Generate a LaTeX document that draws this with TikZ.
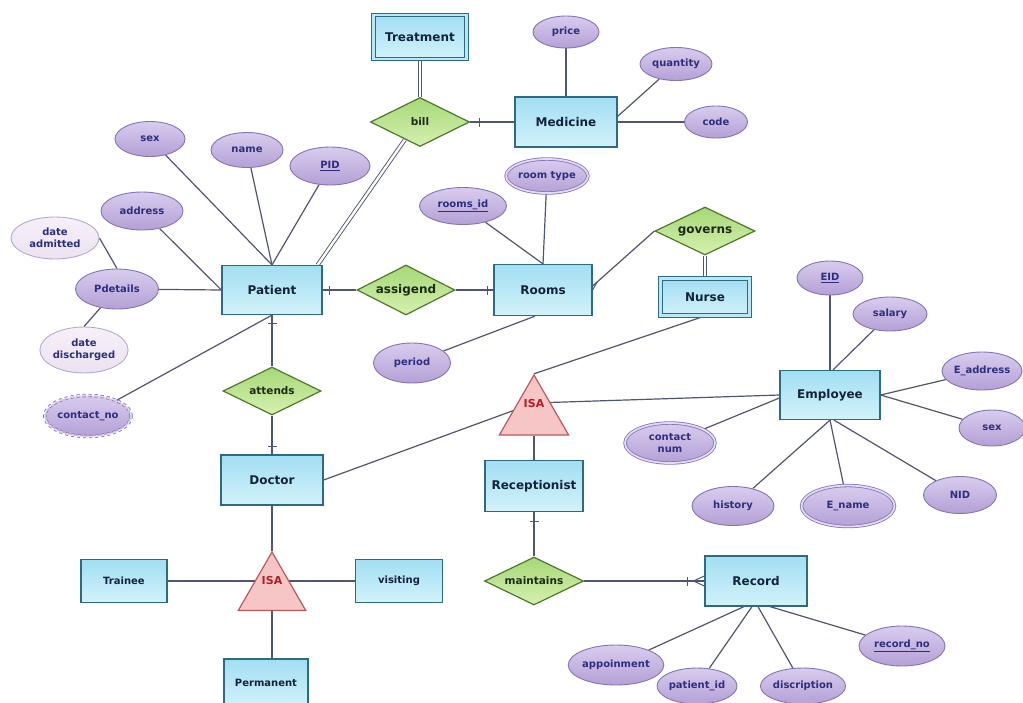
\documentclass[tikz,border=0pt]{standalone}
\usepackage{fontspec}
\setmainfont{DejaVu Sans}
\usetikzlibrary{shapes.geometric,backgrounds,calc}

\definecolor{linec}{HTML}{505670}
\definecolor{entB}{HTML}{2F6A85}
\definecolor{entTop}{HTML}{A2DEF2}
\definecolor{entBot}{HTML}{D2F2FA}
\definecolor{entDbl}{HTML}{B8E8F6}
\definecolor{entT}{HTML}{14233A}
\definecolor{relB}{HTML}{4A7A28}
\definecolor{relTop}{HTML}{A6D877}
\definecolor{relBot}{HTML}{D6F0B0}
\definecolor{relT}{HTML}{1E2A14}
\definecolor{attB}{HTML}{8474B4}
\definecolor{attTop}{HTML}{D8CCEE}
\definecolor{attBot}{HTML}{B4A0D6}
\definecolor{attDbl}{HTML}{E4DAF4}
\definecolor{attT}{HTML}{2E2E7E}
\definecolor{paleB}{HTML}{B8A8CC}
\definecolor{paleTop}{HTML}{F6F0F8}
\definecolor{paleBot}{HTML}{ECE2F2}
\definecolor{isaB}{HTML}{B85A5A}
\definecolor{isaF}{HTML}{F6C5C5}
\definecolor{isaT}{HTML}{B0202A}

\tikzset{
  ent/.style={rectangle,draw=entB,line width=1.2pt,top color=entTop,bottom color=entBot,
    inner sep=0pt,text=entT,font=\bfseries\fontsize{12}{14}\selectfont},
  sub/.style={font=\bfseries\fontsize{10}{12}\selectfont},
  wk/.style={ent,double=entDbl,double distance=2.6pt,line width=0.9pt},
  rel/.style={diamond,aspect=2.2,draw=relB,line width=1.2pt,top color=relTop,bottom color=relBot,
    inner sep=0pt,text=relT,font=\bfseries\fontsize{10.5}{12}\selectfont},
  bigrel/.style={font=\bfseries\fontsize{12}{14}\selectfont},
  attr/.style={ellipse,draw=attB,line width=0.9pt,top color=attTop,bottom color=attBot,
    inner sep=0pt,align=center,text=attT,font=\bfseries\fontsize{10}{12}\selectfont},
  pale/.style={attr,draw=paleB,top color=paleTop,bottom color=paleBot},
  mv/.style={attr,double=attDbl,double distance=1.8pt,line width=0.8pt},
  isa/.style={regular polygon,regular polygon sides=3,draw=isaB,line width=1.2pt,fill=isaF,inner sep=0pt},
  isatxt/.style={text=isaT,font=\bfseries\fontsize{11}{13}\selectfont},
  conn/.style={draw=linec,line width=1.2pt},
  tickln/.style={draw=linec,line width=1.2pt},
  dbl/.style={draw=linec,double=white,double distance=2.4pt,line width=0.9pt}
}

\begin{document}
\begin{tikzpicture}[x=1pt,y=-1pt]
\useasboundingbox (0,0) rectangle (1023,702);
\clip (0,0) rectangle (1023,702);

% ---------- nodes ----------
\node[wk,minimum width=93,minimum height=44] (treat) at (420,37) {Treatment};
\node[rel,minimum width=99,minimum height=49] (bill) at (420,122) {bill};
\node[ent,minimum width=102,minimum height=50] (med) at (566,122) {Medicine};
\node[attr,minimum width=66,minimum height=32] (price) at (566,32) {price};
\node[attr,minimum width=72,minimum height=33] (qty) at (676,64) {quantity};
\node[attr,minimum width=63,minimum height=32] (code) at (716,122) {code};

\node[attr,minimum width=70,minimum height=35] (psex) at (150,139) {sex};
\node[attr,minimum width=72,minimum height=35] (pname) at (247,150) {name};
\node[attr,minimum width=80,minimum height=38] (pid) at (330,166) {\underline{PID}};
\node[attr,minimum width=82,minimum height=38] (paddr) at (142,211) {address};
\node[pale,minimum width=88,minimum height=42] (dadm) at (55,238) {date\\admitted};
\node[attr,minimum width=83,minimum height=40] (pdet) at (117,289) {Pdetails};
\node[pale,minimum width=87,minimum height=46] (ddis) at (84,350) {date\\discharged};
\node[mv,dashed,minimum width=84,minimum height=41] (pcon) at (88,416) {contact\_no};
\node[ent,minimum width=100,minimum height=49] (pat) at (272,290) {Patient};

\node[rel,bigrel,minimum width=98,minimum height=50] (asg) at (406,290) {assigend};
\node[ent,minimum width=98,minimum height=51] (rooms) at (543,290) {Rooms};
\node[attr,minimum width=87,minimum height=37] (rid) at (463,206) {\underline{rooms\_id}};
\node[mv,minimum width=81,minimum height=34] (rtype) at (547,176) {room type};
\node[attr,minimum width=77,minimum height=40] (period) at (412,363) {period};
\node[rel,bigrel,minimum width=100,minimum height=48] (gov) at (705,231) {governs};
\node[wk,minimum width=89,minimum height=37] (nurse) at (705,297) {Nurse};

\node[rel,minimum width=98,minimum height=48] (att) at (272,391) {attends};
\node[ent,minimum width=102,minimum height=50] (doc) at (272,480) {Doctor};

\node[isa,minimum size=80] (isa1) at (534,415) {};
\node[isatxt] (isa1t) at (534,403) {ISA};
\node[ent,minimum width=98,minimum height=51] (recep) at (534,486) {Receptionist};
\node[rel,minimum width=99,minimum height=48] (maint) at (534,581) {maintains};
\node[ent,minimum width=102,minimum height=50] (rec) at (756,581) {Record};
\node[attr,minimum width=88,minimum height=40] (appt) at (616,665) {appoinment};
\node[attr,minimum width=80,minimum height=36] (rpid) at (697,686) {patient\_id};
\node[attr,minimum width=82,minimum height=36] (rdesc) at (803,686) {discription};
\node[attr,minimum width=86,minimum height=40] (rno) at (902,646) {\underline{record\_no}};

\node[ent,minimum width=100,minimum height=49] (emp) at (830,395) {Employee};
\node[attr,minimum width=66,minimum height=34] (eid) at (830,278) {\underline{EID}};
\node[attr,minimum width=74,minimum height=34] (sal) at (890,314) {salary};
\node[attr,minimum width=76,minimum height=38] (eaddr) at (982,371) {E\_address};
\node[attr,minimum width=66,minimum height=36] (esex) at (992,428) {sex};
\node[attr,minimum width=73,minimum height=37] (nid) at (960,495) {NID};
\node[mv,minimum width=93,minimum height=41] (ename) at (848,506) {E\_name};
\node[attr,minimum width=82,minimum height=39] (hist) at (733,506) {history};
\node[mv,minimum width=90,minimum height=40] (ecnum) at (670,443) {contact\\num};

\node[isa,minimum size=78] (isa2) at (272,591) {};
\node[isatxt] (isa2t) at (272,580) {ISA};
\node[ent,sub,minimum width=86,minimum height=43] (trainee) at (124,581) {Trainee};
\node[ent,sub,minimum width=87,minimum height=43] (visit) at (399,581) {visiting};
\node[ent,sub,minimum width=84,minimum height=48] (perm) at (266,683) {Permanent};

% ---------- connectors ----------
\begin{scope}[on background layer]
\fill[white] (0,0) rectangle (1023,702);
\draw[dbl] (treat) -- (bill);
\draw[conn] (bill) -- (med);
\draw[tickln] ($(bill.east)+(9,-4.5)$) -- ++(0,9);
\draw[conn] (price) -- (med);
\draw[conn] (qty) -- ($(med.north east)+(0,20)$);
\draw[conn] (code) -- (med);
\draw[dbl] ($(bill.south)!0.3!(bill.west)$) -- ($(pat.north east)+(-5,0)$);

\draw[conn] (psex) -- (pat.north);
\draw[conn] (pname) -- (pat.north);
\draw[conn] (pid) -- (pat.north);
\draw[conn] (paddr) -- (pat.west);
\draw[conn] (pdet) -- (pat.west);
\draw[conn] (dadm.east) -- (pdet.north);
\draw[conn] (ddis.north) -- (pdet);
\draw[conn] (pcon) -- (pat.south);

\draw[conn] (pat) -- (asg);
\draw[tickln] ($(pat.east)+(7,-4.5)$) -- ++(0,9);
\draw[conn] (asg) -- (rooms);
\draw[tickln] ($(rooms.west)+(-6,-4.5)$) -- ++(0,9);
\draw[conn] (pat) -- (att);
\draw[tickln] ($(pat.south)+(-4.5,8)$) -- ++(9,0);
\draw[conn] (att) -- (doc);
\draw[tickln] ($(doc.north)+(-4.5,-8)$) -- ++(9,0);
\draw[conn] (rid) -- (rooms.north);
\draw[conn] (rtype) -- (rooms.north);
\draw[conn] (period) -- ($(rooms.south)+(-8,0)$);
\coordinate (gcf) at ($(rooms.east)+(0,-4)$);
\draw[conn] (gov.west) -- (gcf);
\draw[conn,line width=1pt] ($(gcf)!6pt!(gov.west)$) -- ($(gcf)+(0,4)$)
  ($(gcf)!6pt!(gov.west)$) -- ($(gcf)+(3,-2)$);
\draw[dbl] (gov) -- (nurse);

\draw[conn] (nurse.south) -- (isa1.north);
\draw[conn] (emp.west) -- (isa1t.center);
\draw[conn] (doc.east) -- (isa1t.center);
\draw[conn] (isa1.south) -- (recep.north);
\draw[conn] (recep) -- (maint);
\draw[tickln] ($(recep.south)+(-4.5,9)$) -- ++(9,0);
\draw[conn] (maint) -- (rec);
\draw[tickln] ($(rec.west)+(-17,-4.5)$) -- ++(0,9);
\draw[conn,line width=1pt] ($(rec.west)+(-11,0)$) -- ($(rec.west)+(0,-5)$)
  ($(rec.west)+(-11,0)$) -- ($(rec.west)+(0,5)$);

\draw[conn] (appt) -- ($(rec.south)+(-12,0)$);
\draw[conn] (rpid) -- ($(rec.south)+(-4,0)$);
\draw[conn] (rdesc) -- ($(rec.south)+(2,0)$);
\draw[conn] (rno) -- ($(rec.south)+(14,0)$);

\draw[conn] (eid) -- (emp.north);
\draw[conn] (sal) -- ($(emp.north)+(3,0)$);
\draw[conn] (eaddr) -- (emp.east);
\draw[conn] (esex) -- (emp.east);
\draw[conn] (nid) -- ($(emp.south)+(4,0)$);
\draw[conn] (ename) -- (emp.south);
\draw[conn] (hist) -- (emp.south);
\draw[conn] (ecnum) -- ($(emp.west)+(0,3)$);

\draw[conn] (doc) -- (isa2.north);
\draw[conn] (trainee) -- (trainee -| isa2);
\draw[conn] (isa2 |- visit) -- (visit);
\draw[conn] (isa2.south) -- (isa2.south |- perm.north);
\end{scope}
\end{tikzpicture}
\end{document}
